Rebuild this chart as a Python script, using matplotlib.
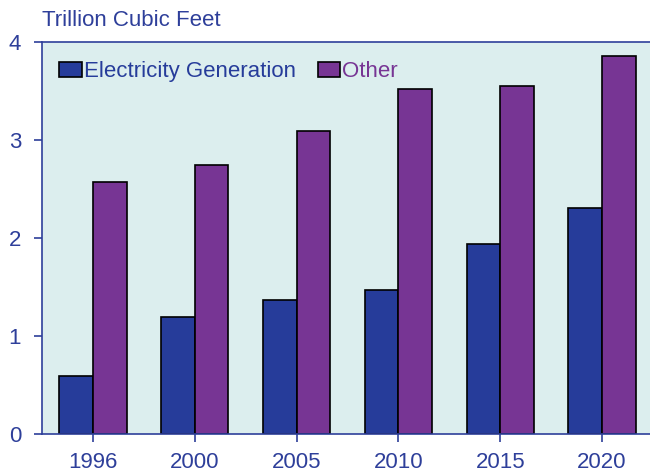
import matplotlib.pyplot as plt
import numpy as np

years = ["1996", "2000", "2005", "2010", "2015", "2020"]
electricity = [0.59, 1.19, 1.37, 1.47, 1.94, 2.31]
other = [2.57, 2.74, 3.09, 3.52, 3.55, 3.86]

blue = "#263c9a"
purple = "#773594"
txt = "#2e3f9a"
bg = "#dceeee"

plt.rcParams['font.family'] = ['Liberation Sans', 'DejaVu Sans']

fig = plt.figure(figsize=(6.5, 4.74), dpi=100)
ax = fig.add_axes([42 / 650, 40 / 474, 611 / 650, 392 / 474])
ax.set_facecolor(bg)

x = np.arange(len(years))
w = 0.33
ax.bar(x - w / 2, electricity, w, color=blue, edgecolor="black", linewidth=1.2,
       label="Electricity Generation")
ax.bar(x + w / 2, other, w, color=purple, edgecolor="black", linewidth=1.2,
       label="Other")

ax.set_xlim(-0.5, 5.5)
ax.set_ylim(0, 4)
ax.set_xticks(x)
ax.set_xticklabels(years)
ax.set_yticks([0, 1, 2, 3, 4])

for s in ["left", "bottom", "top"]:
    ax.spines[s].set_color(txt)
    ax.spines[s].set_linewidth(1.2)
ax.spines["right"].set_visible(False)
ax.tick_params(axis="both", colors=txt, labelsize=16, length=6, width=1.2)
ax.tick_params(axis="x", pad=7)
ax.tick_params(axis="y", pad=9)

leg = ax.legend(loc="upper left", ncol=2, frameon=False, fontsize=16,
                bbox_to_anchor=(-0.008, 1.008), handlelength=1.0, handleheight=0.7,
                handletextpad=0.1, columnspacing=1.0, borderaxespad=0.6)
for t, c in zip(leg.get_texts(), [blue, purple]):
    t.set_color(c)

fig.text(42 / 650, 1 - 21 / 474, "Trillion Cubic Feet", color=txt, fontsize=16,
         va="center", ha="left")

fig.savefig("out.png", dpi=100)
